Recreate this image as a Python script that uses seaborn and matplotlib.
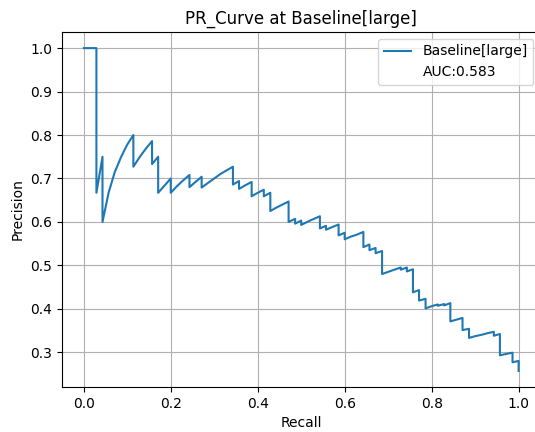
import matplotlib
matplotlib.use('Agg')
import matplotlib.pyplot as plt
import seaborn as sns

# PR curve vertices (recall, precision)
recall = [0.0, 0.029, 0.029, 0.043, 0.043, 0.057, 0.071, 0.086, 0.1, 0.114,
          0.114, 0.129, 0.143, 0.157, 0.157, 0.171, 0.171, 0.186, 0.2, 0.2,
          0.214, 0.229, 0.243, 0.243, 0.257, 0.271, 0.271, 0.286, 0.3, 0.314,
          0.329, 0.343, 0.343, 0.357, 0.357, 0.371, 0.386, 0.386, 0.4, 0.414,
          0.414, 0.429, 0.429, 0.443, 0.457, 0.471, 0.471, 0.486, 0.486, 0.5,
          0.5, 0.514, 0.529, 0.543, 0.543, 0.557, 0.557, 0.571, 0.586, 0.586,
          0.6, 0.6, 0.614, 0.629, 0.643, 0.643, 0.657, 0.657, 0.671, 0.671,
          0.686, 0.686, 0.7, 0.714, 0.729, 0.729, 0.743, 0.743, 0.757, 0.757,
          0.771, 0.771, 0.786, 0.786, 0.8, 0.814, 0.814, 0.829, 0.829, 0.843,
          0.843, 0.857, 0.871, 0.871, 0.886, 0.886, 0.9, 0.914, 0.929, 0.943,
          0.943, 0.957, 0.957, 0.971, 0.986, 0.986, 1.0, 1.0]
precision = [1.0, 1.0, 0.667, 0.75, 0.6, 0.667, 0.714, 0.75, 0.778, 0.8,
             0.727, 0.75, 0.769, 0.786, 0.733, 0.75, 0.667, 0.684, 0.7, 0.667,
             0.682, 0.696, 0.708, 0.68, 0.692, 0.704, 0.679, 0.69, 0.7, 0.71,
             0.719, 0.727, 0.686, 0.694, 0.676, 0.684, 0.692, 0.659, 0.667, 0.674,
             0.659, 0.667, 0.625, 0.633, 0.64, 0.647, 0.6, 0.607, 0.596, 0.603,
             0.593, 0.6, 0.607, 0.613, 0.585, 0.591, 0.582, 0.588, 0.594, 0.569,
             0.575, 0.56, 0.566, 0.571, 0.577, 0.542, 0.548, 0.535, 0.54, 0.528,
             0.533, 0.48, 0.485, 0.49, 0.495, 0.49, 0.495, 0.486, 0.491, 0.438,
             0.443, 0.419, 0.423, 0.401, 0.406, 0.41, 0.407, 0.411, 0.408, 0.413,
             0.371, 0.375, 0.379, 0.351, 0.354, 0.333, 0.337, 0.34, 0.344, 0.347,
             0.338, 0.342, 0.293, 0.296, 0.299, 0.277, 0.28, 0.257]

model_name = 'Baseline[large]'
auc = 0.583

fig = plt.figure(figsize=(5.35, 4.32), dpi=100)
ax = fig.add_axes([0.116, 0.104, 0.894, 0.822])

sns.lineplot(x=recall, y=precision, sort=False, estimator=None,
             color='#1f77b4', linewidth=1.5, label=model_name, ax=ax)
# extra legend row holding the AUC value
ax.plot([], [], ' ', label=f'AUC:{auc}')

ax.set_title(f'PR_Curve at {model_name}', fontsize=12)
ax.set_xlabel('Recall')
ax.set_ylabel('Precision')
ax.grid(True)
ax.legend(loc='upper right')

fig.savefig('out.png', dpi=100)
